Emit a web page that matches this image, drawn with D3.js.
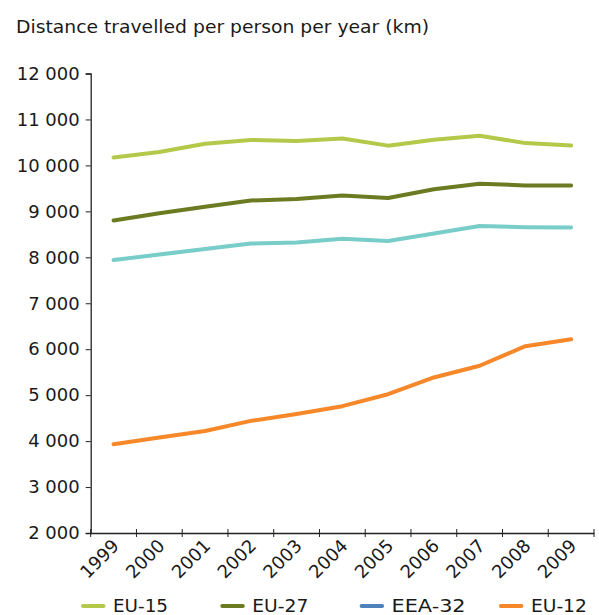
<!DOCTYPE html>
<html>
<head>
<meta charset="utf-8">
<script src="https://cdn.jsdelivr.net/npm/d3@7"></script>
<style>
  html, body { margin: 0; padding: 0; background: #fff; }
  text { font-family: "DejaVu Sans", Verdana, sans-serif; fill: #1a1a1a; }
</style>
</head>
<body>
<svg id="chart" width="599" height="615"></svg>
<script>
const years = ["1999","2000","2001","2002","2003","2004","2005","2006","2007","2008","2009"];
const eu15  = [10170, 10290, 10470, 10555, 10530, 10585, 10430, 10560, 10645, 10485, 10435];
const eu27  = [8800, 8960, 9100, 9235, 9270, 9345, 9290, 9480, 9600, 9565, 9565];
const eea32 = [7940, 8060, 8180, 8300, 8320, 8405, 8355, 8520, 8680, 8655, 8650];
const eu12  = [3930, 4080, 4220, 4440, 4590, 4760, 5020, 5385, 5640, 6065, 6215];
const yTicks = [2000, 3000, 4000, 5000, 6000, 7000, 8000, 9000, 10000, 11000, 12000];
const seriesNames = ["EU-15", "EU-27", "EEA-32", "EU-12"];
const lineColors = ["#b4c84a", "#6b7b22", "#78cdc8", "#f6882a"];
const legendColors = ["#b4c84a", "#6b7b22", "#4f81bd", "#f6882a"];
const seriesData = [eu15, eu27, eea32, eu12];

const svg = d3.select("#chart");
const pLeft = 90.7, pRight = 594, pTop = 73.5, pBottom = 533;

const x = d3.scaleBand().domain(years).range([pLeft, pRight]);
const y = d3.scaleLinear().domain([2000, 12000]).range([pBottom, pTop]);

// title
svg.append("text").attr("x", 16).attr("y", 33)
  .style("font-size", "17px")
  .attr("textLength", 413).attr("lengthAdjust", "spacingAndGlyphs")
  .text("Distance travelled per person per year (km)");

// y axis
const yAxis = svg.append("g").attr("transform", `translate(${pLeft},0)`)
  .call(d3.axisLeft(y).tickValues(yTicks).tickSize(5).tickPadding(6)
    .tickFormat(d => d3.format(",")(d).replace(",", " ")));
yAxis.selectAll("text").style("font-size", "18px").attr("fill", "#1a1a1a");

// x axis
const xAxis = svg.append("g").attr("transform", `translate(0,${pBottom})`)
  .call(d3.axisBottom(x).tickSize(0).tickFormat(""));
const bounds = years.map(yr => x(yr)).concat([pRight]);
xAxis.selectAll(".bt").data(bounds).enter().append("line")
  .attr("x1", d => d).attr("x2", d => d).attr("y1", -4).attr("y2", 4)
  .attr("stroke", "#222");
svg.selectAll(".domain").attr("stroke", "#222").attr("stroke-width", 1.3);
svg.selectAll(".tick line").attr("stroke", "#222");

svg.append("g").selectAll("text").data(years).enter().append("text")
  .attr("transform", d => `translate(${x(d) + x.bandwidth()/2 + 6.5},${pBottom + 14}) rotate(-45)`)
  .attr("text-anchor", "end")
  .style("font-size", "18px")
  .text(d => d);

// lines
const line = d3.line()
  .x((d, i) => x(years[i]) + x.bandwidth() / 2)
  .y(d => y(d));
svg.append("g").selectAll("path").data(seriesData).enter().append("path")
  .attr("d", d => line(d))
  .attr("fill", "none")
  .attr("stroke", (d, i) => lineColors[i])
  .attr("stroke-width", 4)
  .attr("stroke-linejoin", "round")
  .attr("stroke-linecap", "round");

// legend
const legendWidths = [55, 56, 74, 56];
const lg = svg.append("g").selectAll("g").data(seriesNames).enter().append("g")
  .attr("transform", (d, i) => `translate(${83 + i * 139.3},606)`);
lg.append("line").attr("x1", 0).attr("x2", 20.5).attr("y1", 0).attr("y2", 0)
  .attr("stroke", (d, i) => legendColors[i]).attr("stroke-width", 4)
  .attr("stroke-linecap", "round");
lg.append("text").attr("x", 30).attr("y", 6.3)
  .style("font-size", "17px")
  .attr("textLength", (d, i) => legendWidths[i]).attr("lengthAdjust", "spacingAndGlyphs")
  .text(d => d);
</script>
</body>
</html>
